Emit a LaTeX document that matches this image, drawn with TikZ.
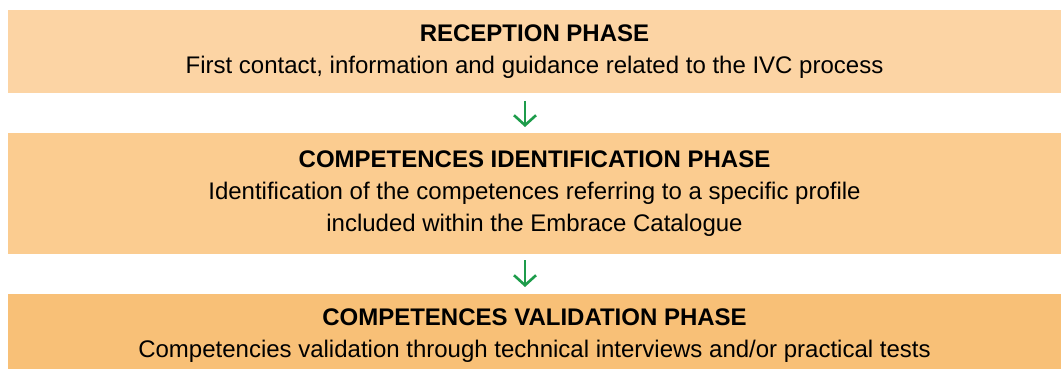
\documentclass[tikz,border=0pt]{standalone}
\usepackage{fontspec}
\setmainfont{Liberation Sans}
\usetikzlibrary{arrows.meta}

\definecolor{phaseA}{HTML}{FCD4A4}
\definecolor{phaseB}{HTML}{FBCC90}
\definecolor{phaseC}{HTML}{F8C077}
\definecolor{flowgreen}{HTML}{1D9C4B}

\tikzset{
  phasebox/.style={rectangle, draw=none, minimum width=1053pt, inner sep=0pt,
    align=center, text=black, font=\fontsize{24}{32}\selectfont},
  flowarrow/.style={draw=flowgreen, line width=2.6pt,
    -{Straight Barb[length=10pt,width=22pt,line width=2.6pt]}}
}

\begin{document}
\begin{tikzpicture}[x=1pt,y=-1pt]
  \useasboundingbox (0,0) rectangle (1061,369);
  \clip (0,0) rectangle (1061,369);

  % the three phases, top to bottom
  \node[phasebox, fill=phaseA, minimum height=83pt] (reception) at (534.5,51.5)
    {\textbf{RECEPTION PHASE}\\First contact, information and guidance related to the IVC process};
  \node[phasebox, fill=phaseB, minimum height=121pt] (identification) at (534.5,193.5)
    {\textbf{COMPETENCES IDENTIFICATION PHASE}\\Identification of the competences referring to a specific profile\\included within the Embrace Catalogue};
  \node[phasebox, fill=phaseC, minimum height=83pt] (validation) at (534.5,335.5)
    {\textbf{COMPETENCES VALIDATION PHASE}\\Competencies validation through technical interviews and/or practical tests};

  % arrows between the phases
  \coordinate (a1s) at (525,101);
  \coordinate (a1e) at (525,127);
  \coordinate (a2s) at (525,260);
  \coordinate (a2e) at (525,287);
  \draw[flowarrow] (a1s) -- (a1e);
  \draw[flowarrow] (a2s) -- (a2e);
\end{tikzpicture}
\end{document}
